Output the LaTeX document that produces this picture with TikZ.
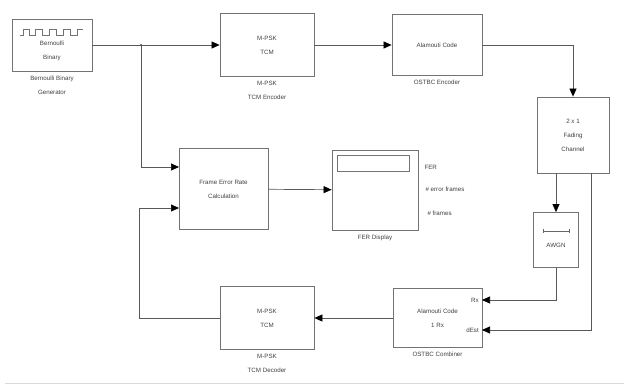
\documentclass[tikz,border=0pt]{standalone}
\usepackage{fontspec}
\setmainfont{Liberation Sans}
\usepackage{tikz}
\usetikzlibrary{arrows.meta,positioning,calc}

\begin{document}
\begin{tikzpicture}[
  x=1pt, y=-1pt,
  font=\fontsize{6.2}{14}\selectfont,
  every node/.style={align=center, text=black!75},
  blk/.style={draw=black!55, line width=0.8pt, inner sep=0pt},
  wire/.style={draw=black!65, line width=0.7pt},
  arr/.style={wire, -{Triangle[length=8pt,width=7pt,color=black]}},
  lbl/.style={font=\fontsize{6.2}{14}\selectfont},
]
\useasboundingbox (0,0) rectangle (624,385);

% blocks
\node[blk, minimum width=80pt, minimum height=52pt] (bern) at (52,45) {};
\node at (52,51) {Bernoulli\\Binary};
\node[lbl, below=1pt of bern] (bernlbl) {Bernoulli Binary\\Generator};

\node[blk, minimum width=94pt, minimum height=63pt] (enc) at (267,45) {M-PSK\\TCM};
\node[lbl, below=1pt of enc] (enclbl) {M-PSK\\TCM Encoder};

\node[blk, minimum width=90pt, minimum height=61pt] (ala) at (437,45) {Alamouti Code};
\node[lbl, below=1pt of ala] (alalbl) {OSTBC Encoder};

\node[blk, minimum width=72pt, minimum height=76pt] (fad) at (573,135) {2 x 1\\Fading\\Channel};

\node[blk, minimum width=45pt, minimum height=55pt] (awgn) at (556,240) {};
\node at (556,245) {AWGN};

\node[blk, minimum width=89pt, minimum height=81pt] (fer) at (223.5,189) {Frame Error Rate\\Calculation};

\node[blk, minimum width=86pt, minimum height=80pt] (disp) at (375,190) {};
\node[blk, minimum width=72pt, minimum height=16pt] (dispwin) at (373,163) {};
\node[lbl, below=1pt of disp] (displbl) {FER Display};
\node[anchor=west] (pfer) at (421,167) {FER};
\node[anchor=west] (perr) at (422,189) {\# error frames};
\node[anchor=west] (pfrm) at (424,213) {\# frames};

\node[blk, minimum width=89pt, minimum height=59pt] (comb) at (437.5,318) {Alamouti Code\\1 Rx};
\node[anchor=east, inner sep=1pt] (prx) at (480,300) {Rx};
\node[anchor=east, inner sep=1pt] (pdest) at (480,330) {dEst};
\node[lbl, below=1pt of comb] (comblbl) {OSTBC Combiner};

\node[blk, minimum width=94pt, minimum height=63pt] (dec) at (267,318) {M-PSK\\TCM};
\node[lbl, below=1pt of dec] (declbl) {M-PSK\\TCM Decoder};

% icons
\draw[black!55, line width=0.5pt] (20,35) -- (23,35) -- (23,29) -- (29,29) -- (29,35) -- (35,35)
  -- (35,29) -- (42,29) -- (42,35) -- (49,35) -- (49,29) -- (56,29) -- (56,35) -- (63,35)
  -- (63,29) -- (70,29) -- (70,35) -- (77,35) -- (77,29) -- (83,29);
\draw[black!60, line width=0.6pt] (543,229) -- (543,233) (543,231) -- (569,231) (569,229) -- (569,233);

% ports
\coordinate (j) at (141,45);
\coordinate (ferin1) at (179,167);
\coordinate (ferin2) at (179,208);
\coordinate (fado1) at (556,173);
\coordinate (fado2) at (591,173);
\coordinate (combrx) at (482,300);
\coordinate (combdest) at (482,330);

% connectors
\draw[arr] (bern) -- (enc);
\fill[black!70] (j) circle (1.2pt);
\draw[arr] (j) |- (ferin1);
\draw[arr] (enc) -- (ala);
\draw[arr] (ala.east) -| (fad.north);
\draw[arr] (fado1) -- (awgn.north);
\draw[arr] (awgn.south) |- (combrx);
\draw[arr] (fado2) |- (combdest);
\draw[arr] (comb) -- (dec);
\draw[arr] (dec.west) -- ++(-80,0) |- (ferin2);
\draw[arr] (fer) -- (disp);

\draw[black!15, line width=1pt] (5,383.5) -- (624,383.5);
\end{tikzpicture}
\end{document}
